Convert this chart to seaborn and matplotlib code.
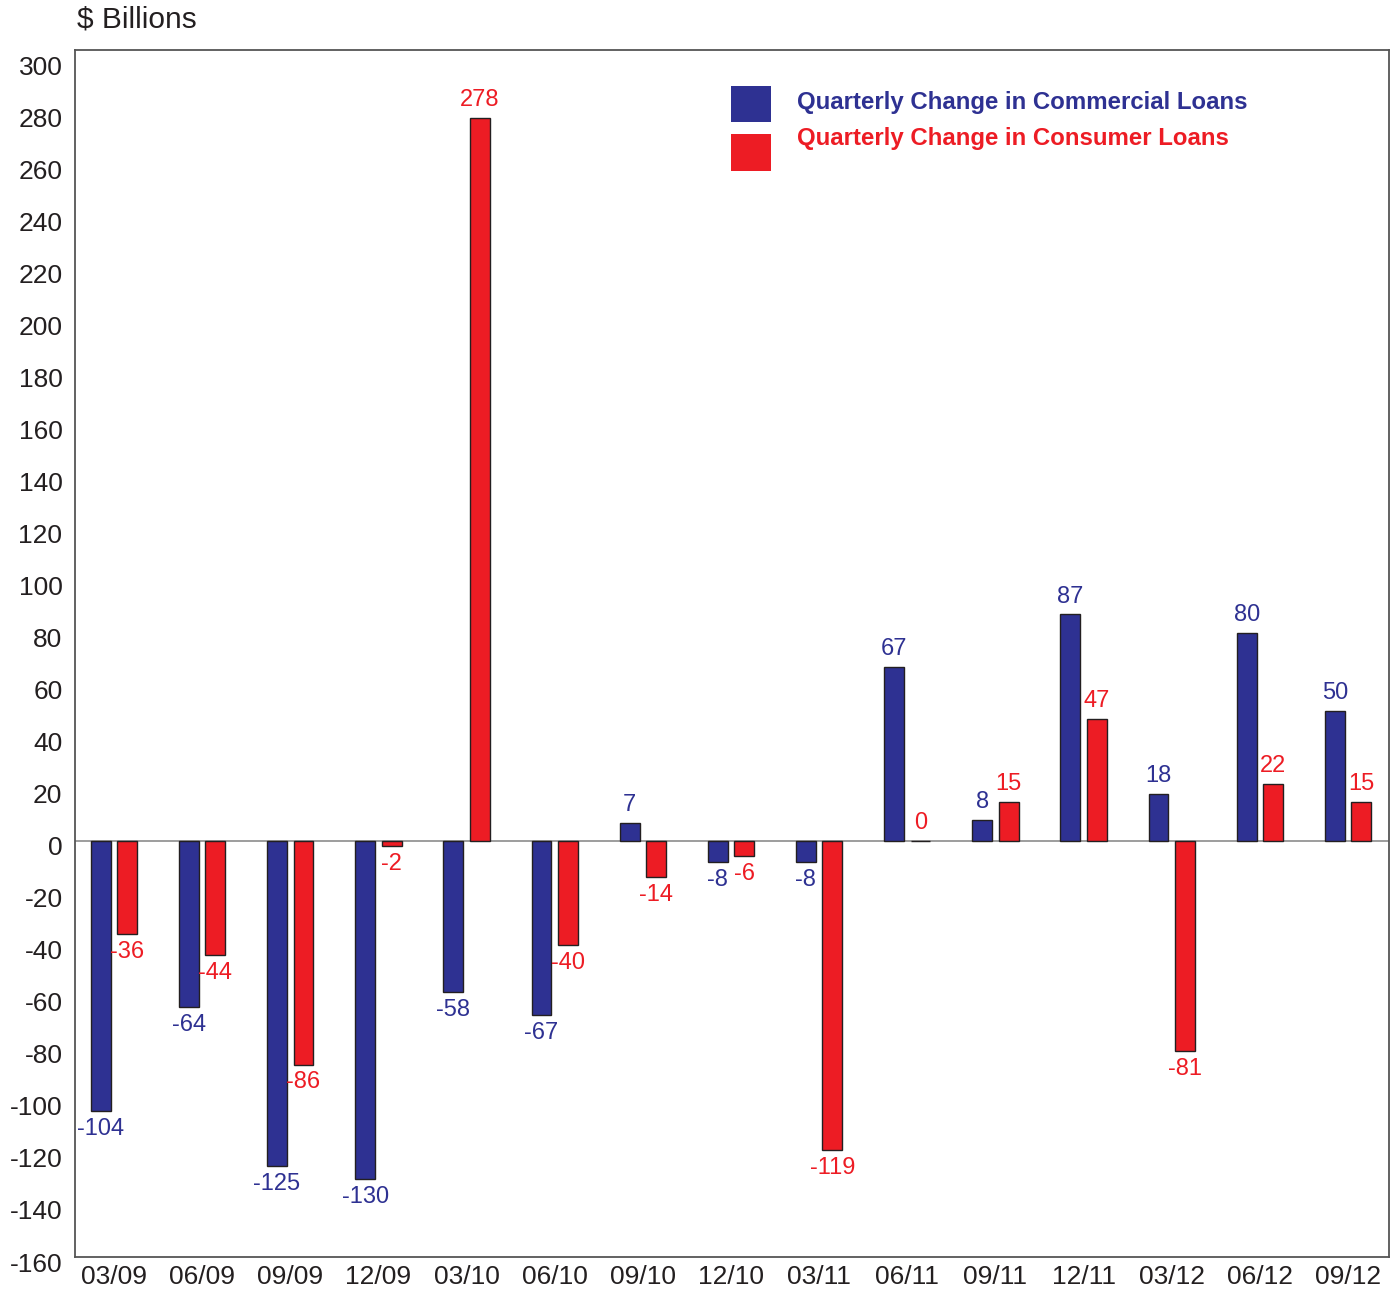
import matplotlib
matplotlib.use("Agg")
import matplotlib.pyplot as plt
from matplotlib.patches import Rectangle
from matplotlib.transforms import ScaledTranslation
import seaborn as sns
import pandas as pd

quarters = ["03/09", "06/09", "09/09", "12/09", "03/10", "06/10", "09/10", "12/10",
            "03/11", "06/11", "09/11", "12/11", "03/12", "06/12", "09/12"]
commercial = [-104, -64, -125, -130, -58, -67, 7, -8, -8, 67, 8, 87, 18, 80, 50]
consumer = [-36, -44, -86, -2, 278, -40, -14, -6, -119, 0, 15, 47, -81, 22, 15]

series_names = ["Quarterly Change in Commercial Loans", "Quarterly Change in Consumer Loans"]
blue = "#2E3192"
red = "#ED1C24"
palette = {series_names[0]: blue, series_names[1]: red}

df = pd.DataFrame({
    "quarter": quarters * 2,
    "value": commercial + consumer,
    "series": [series_names[0]] * len(quarters) + [series_names[1]] * len(quarters),
})

sns.set_theme(style="white")
plt.rcParams["font.family"] = ["Liberation Sans", "DejaVu Sans"]
plt.rcParams["axes.unicode_minus"] = False

fig = plt.figure(figsize=(13.94, 12.89), dpi=100)
ax = fig.add_axes([75 / 1394, 1 - 1257 / 1289, (1389 - 75) / 1394, (1257 - 50) / 1289])

sns.barplot(data=df, x="quarter", y="value", hue="series", hue_order=series_names,
            order=quarters, palette=palette, width=0.6, gap=0.25,
            edgecolor="#231F20", linewidth=1.0, saturation=1, legend=False, ax=ax,
            errorbar=None)

# value labels at the end of each bar
for container, color in zip(ax.containers, [blue, red]):
    ax.bar_label(container, fmt="%d", padding=5, fontsize=17, color=color)

ax.axhline(0, color="#8C8C8C", linewidth=1.2, zorder=0.5)

ax.set_ylim(-160, 304)
ax.set_xlim(-0.442, 14.465)
ax.set_yticks(range(-160, 301, 20))
ax.tick_params(axis="both", length=0, labelsize=19, colors="#231F20")
ax.tick_params(axis="y", pad=9)
ax.tick_params(axis="x", pad=6)
ax.set_xlabel("")
ax.set_ylabel("")
shift = ScaledTranslation(0, -5 / 100, fig.dpi_scale_trans)
for lab in ax.get_yticklabels():
    lab.set_transform(lab.get_transform() + shift)
for sp in ax.spines.values():
    sp.set_color("#555555")
    sp.set_linewidth(1.3)

# legend drawn as colour swatches with coloured labels
fig_w, fig_h = 1394, 1289
for (y0, y1, ytxt), name in zip([(86, 122, 103), (134, 171, 139)], series_names):
    fig.patches.append(Rectangle((731 / fig_w, 1 - y1 / fig_h), 40 / fig_w, (y1 - y0) / fig_h,
                                 transform=fig.transFigure, facecolor=palette[name],
                                 edgecolor="none"))
    fig.text(797 / fig_w, 1 - ytxt / fig_h, name, color=palette[name], fontsize=17.3,
             fontweight="bold", ha="left", va="center")

fig.text(77 / fig_w, 1 - 19 / fig_h, "$ Billions", fontsize=21.5, color="#231F20",
         ha="left", va="center")

fig.savefig("out.png", dpi=100)
